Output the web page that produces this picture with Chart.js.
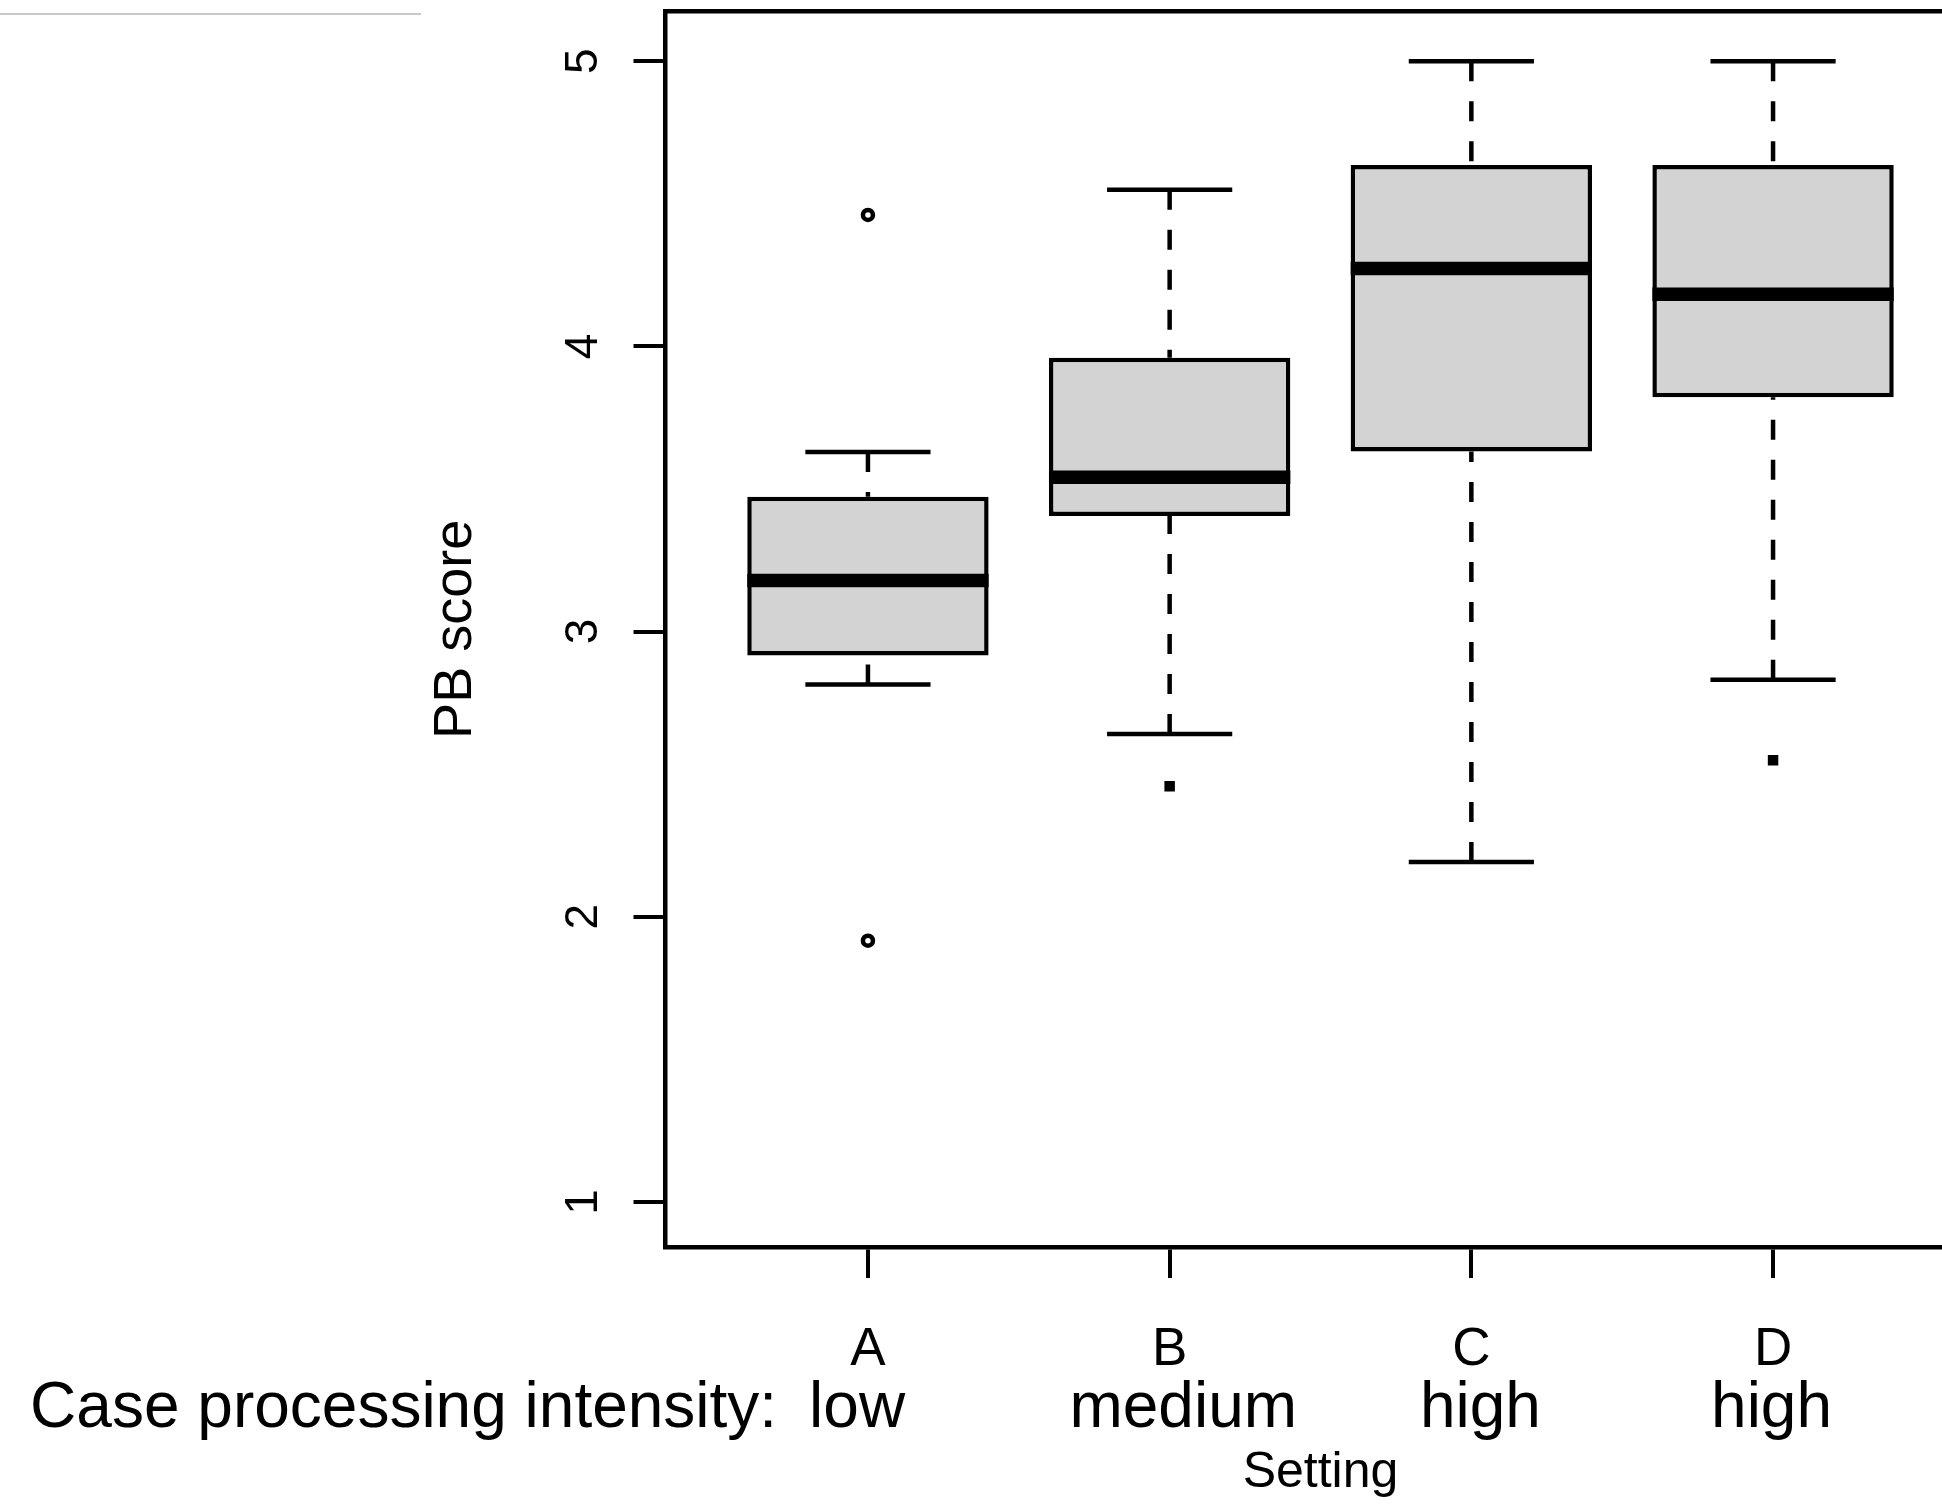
<!DOCTYPE html>
<html>
<head>
<meta charset="utf-8">
<script src="https://cdn.jsdelivr.net/npm/chart.js@4.4.1/dist/chart.umd.min.js"></script>
<style>
  html, body { margin: 0; padding: 0; background: #fff; overflow: hidden; }
  #wrap { position: relative; width: 1990px; height: 1506px; }
  #rule { position: absolute; left: 0; top: 12.5px; width: 421px; height: 2px; background: #c8c8c8; }
</style>
</head>
<body>
<div id="wrap">
  <canvas id="box-chart" width="1990" height="1506"></canvas>
  <div id="rule"></div>
</div>
<script>
let settings = ["A", "B", "C", "D"];
let intensity = ["low", "medium", "high", "high"];
let caption = "Case processing intensity:";
let yTicks = [1, 2, 3, 4, 5];

let lowerWhisker = [2.814, 2.641, 2.192, 2.831];
let q1 = [2.916, 3.405, 3.631, 3.822];
let median = [3.179, 3.541, 4.273, 4.183];
let q3 = [3.473, 3.960, 4.636, 4.636];
let upperWhisker = [3.630, 4.549, 5.0, 5.0];
let outliersOpen = [[4.461, 1.916], [], [], []];
let outliersFilled = [[], [2.458], [], [2.549]];

// box geometry in axis units (R boxplot defaults)
let boxWidth = 0.8;
let stapleWidth = 0.4;
let xMin = 0.329, xMax = 4.671;
let yMin = 0.842, yMax = 5.1735;
// where the pasted-in caption row sits on the x axis
let captionAt = -0.539;
let intensityAt = [0.964, 2.045, 3.03, 3.995];

let pos = settings.map((s, i) => i + 1);
let gap = (x) => ({ x: x, y: null });

let boxData = pos.map((x, i) => ({ x: x, y: [q1[i], q3[i]] }));
let medianData = pos.flatMap((x, i) => [
  { x: x - boxWidth / 2, y: median[i] }, { x: x + boxWidth / 2, y: median[i] }, gap(x),
]);
let whiskerData = pos.flatMap((x, i) => [
  { x: x, y: lowerWhisker[i] }, { x: x, y: q1[i] }, gap(x),
  { x: x, y: upperWhisker[i] }, { x: x, y: q3[i] }, gap(x),
]);
let stapleData = pos.flatMap((x, i) => [
  { x: x - stapleWidth / 2, y: lowerWhisker[i] }, { x: x + stapleWidth / 2, y: lowerWhisker[i] }, gap(x),
  { x: x - stapleWidth / 2, y: upperWhisker[i] }, { x: x + stapleWidth / 2, y: upperWhisker[i] }, gap(x),
]);
let openData = pos.flatMap((x, i) => outliersOpen[i].map((v) => ({ x: x, y: v })));
let filledData = pos.flatMap((x, i) => outliersFilled[i].map((v) => ({ x: x, y: v })));

Chart.defaults.font.family = "'Liberation Sans', Arial, sans-serif";
Chart.defaults.color = "#000";

let noPad = (scale) => {
  scale.paddingLeft = 0;
  scale.paddingRight = 0;
  scale.paddingTop = 0;
  scale.paddingBottom = 0;
};

let frame = { display: true, color: "#000", width: 4.5 };
let tickGrid = (len) => ({
  display: true,
  drawOnChartArea: false,
  drawTicks: true,
  offset: false,
  tickLength: len,
  tickWidth: 4,
  tickColor: "#000",
  lineWidth: 4,
  color: "#000",
});

new Chart(document.getElementById("box-chart"), {
  type: "bar",
  data: {
    datasets: [
      {
        type: "line",
        data: medianData,
        borderColor: "#000",
        borderWidth: 13.5,
        borderCapStyle: "butt",
        pointRadius: 0,
        spanGaps: false,
        xAxisID: "x",
        yAxisID: "y",
        order: 0,
      },
      {
        type: "scatter",
        data: openData,
        pointStyle: "circle",
        pointRadius: 5,
        borderWidth: 4.5,
        borderColor: "#000",
        backgroundColor: "#fff",
        xAxisID: "x",
        yAxisID: "y",
        order: 1,
      },
      {
        type: "scatter",
        data: filledData,
        pointStyle: "rect",
        pointRadius: 6,
        borderWidth: 2,
        borderColor: "#000",
        backgroundColor: "#000",
        xAxisID: "x",
        yAxisID: "y",
        order: 1,
      },
      {
        type: "line",
        data: stapleData,
        borderColor: "#000",
        borderWidth: 4.5,
        borderCapStyle: "square",
        pointRadius: 0,
        spanGaps: false,
        xAxisID: "x",
        yAxisID: "y",
        order: 2,
      },
      {
        type: "line",
        data: whiskerData,
        borderColor: "#000",
        borderWidth: 4.5,
        borderDash: [20, 20],
        borderCapStyle: "butt",
        pointRadius: 0,
        spanGaps: false,
        xAxisID: "x",
        yAxisID: "y",
        order: 2,
      },
      {
        type: "bar",
        data: boxData,
        backgroundColor: "#d3d3d3",
        borderColor: "#000",
        borderWidth: 4.5,
        borderSkipped: false,
        barPercentage: boxWidth,
        categoryPercentage: 1,
        xAxisID: "x",
        yAxisID: "y",
        order: 3,
      },
    ],
  },
  options: {
    responsive: false,
    animation: false,
    events: [],
    layout: {
      autoPadding: false,
      padding: { left: 31, top: 11.7, right: 14.5, bottom: 0 },
    },
    plugins: {
      legend: { display: false },
      tooltip: { enabled: false },
      title: { display: false },
    },
    scales: {
      x: {
        type: "linear",
        position: "bottom",
        weight: 0,
        min: xMin,
        max: xMax,
        offset: false,
        afterBuildTicks: (scale) => {
          scale.ticks = pos.map((v) => ({ value: v }));
        },
        afterFit: (scale) => {
          // fit() counts the tick padding twice, so set the height by hand
          scale.height = 126.5;
          noPad(scale);
        },
        ticks: {
          autoSkip: false,
          minRotation: 0,
          maxRotation: 0,
          padding: 45.5,
          font: { size: 53, lineHeight: 1 },
          callback: (value) => settings[value - 1],
        },
        grid: tickGrid(31),
        border: frame,
      },
      x2: {
        type: "linear",
        axis: "x",
        position: "bottom",
        weight: 1,
        min: xMin,
        max: xMax,
        offset: false,
        afterBuildTicks: (scale) => {
          scale.ticks = [{ value: captionAt }].concat(intensityAt.map((v) => ({ value: v })));
        },
        afterFit: (scale) => {
          scale.height = 132.5;
          noPad(scale);
        },
        ticks: {
          autoSkip: false,
          minRotation: 0,
          maxRotation: 0,
          padding: 4,
          font: { size: 64, lineHeight: 1 },
          callback: (value, index) => (index === 0 ? caption : intensity[index - 1]),
        },
        grid: { display: false, drawTicks: false, tickLength: 0, offset: false },
        border: { display: false },
        title: {
          display: true,
          text: "Setting",
          font: { size: 50, lineHeight: 1 },
          padding: { top: 7.2, bottom: 7.3 },
        },
      },
      xTop: {
        type: "linear",
        axis: "x",
        position: "top",
        min: xMin,
        max: xMax,
        offset: false,
        afterFit: (scale) => {
          scale.height = 0;
          noPad(scale);
        },
        ticks: { display: false },
        grid: { display: false, drawTicks: false, tickLength: 0, offset: false },
        border: frame,
      },
      y: {
        type: "linear",
        position: "left",
        min: yMin,
        max: yMax,
        afterBuildTicks: (scale) => {
          scale.ticks = yTicks.map((v) => ({ value: v }));
        },
        afterFit: (scale) => {
          scale.width = 634.5;
          noPad(scale);
        },
        ticks: {
          minRotation: 90,
          maxRotation: 90,
          crossAlign: "center",
          padding: 36.7,
          font: { size: 46 },
          callback: (value) => value.toString(),
        },
        grid: tickGrid(32),
        border: frame,
        title: {
          display: true,
          text: "PB score",
          font: { size: 54 },
          padding: { top: 392.6, bottom: 0 },
        },
      },
      y2: {
        type: "linear",
        axis: "y",
        position: "right",
        min: yMin,
        max: yMax,
        afterFit: (scale) => {
          scale.width = 0;
          noPad(scale);
        },
        ticks: { display: false },
        grid: { display: false, drawTicks: false, tickLength: 0 },
        border: frame,
      },
    },
  },
});
</script>
</body>
</html>
